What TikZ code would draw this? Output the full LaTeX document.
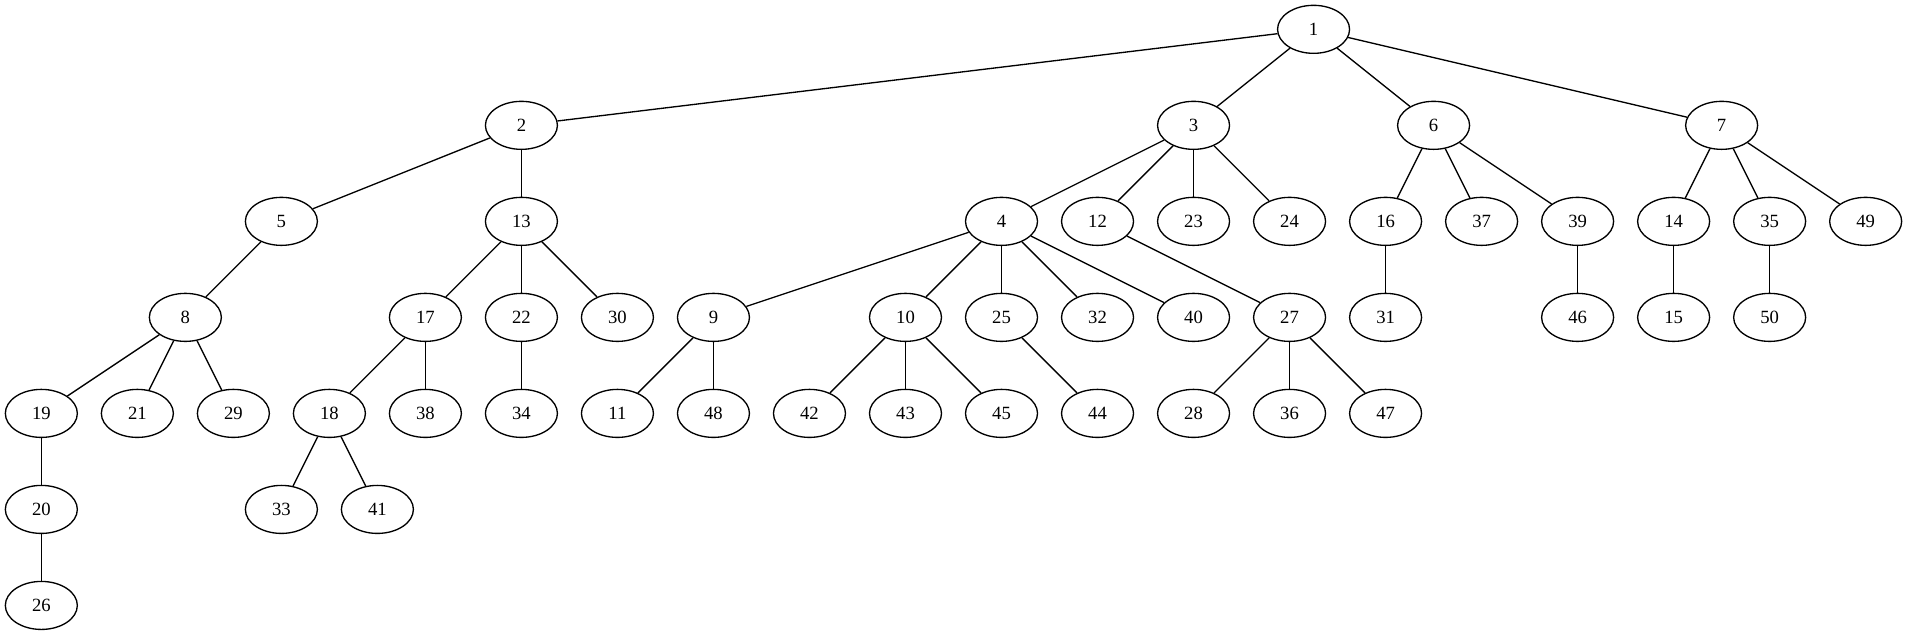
\documentclass[tikz,border=0pt]{standalone}
\usepackage{fontspec}
\setmainfont{Liberation Serif}
\usetikzlibrary{shapes.geometric}
\tikzset{vertex/.style={draw,ellipse,minimum width=54pt,minimum height=36pt,inner sep=0pt,font=\fontsize{14}{16}\selectfont}}
\begin{document}
\begin{tikzpicture}[x=1pt,y=1pt,line width=1pt]
	\useasboundingbox (0,0) rectangle (1430,476);
	% nodes: label/x/rank
	\foreach \n/\x/\r in {1/985/0,
		2/391/1, 3/895/1, 6/1075/1, 7/1291/1,
		5/211/2, 13/391/2, 4/751/2, 12/823/2, 23/895/2, 24/967/2, 16/1039/2, 37/1111/2, 39/1183/2, 14/1255/2, 35/1327/2, 49/1399/2,
		8/139/3, 17/319/3, 22/391/3, 30/463/3, 9/535/3, 10/679/3, 25/751/3, 32/823/3, 40/895/3, 27/967/3, 31/1039/3, 46/1183/3, 15/1255/3, 50/1327/3,
		19/31/4, 21/103/4, 29/175/4, 18/247/4, 38/319/4, 34/391/4, 11/463/4, 48/535/4, 42/607/4, 43/679/4, 45/751/4, 44/823/4, 28/895/4, 36/967/4, 47/1039/4,
		20/31/5, 33/211/5, 41/283/5,
		26/31/6}
		\node[vertex] (n\n) at (\x,{454-72*\r}) {\n};
	% edges
	\foreach \a/\b in {1/2, 1/3, 1/6, 1/7, 2/5, 2/13, 3/4, 3/12, 3/23, 3/24,
		6/16, 6/37, 6/39, 7/14, 7/35, 7/49, 5/8, 13/17, 13/22, 13/30,
		4/9, 4/10, 4/25, 4/32, 4/40, 12/27, 16/31, 39/46, 14/15, 35/50,
		8/19, 8/21, 8/29, 17/18, 17/38, 22/34, 9/11, 9/48, 10/42, 10/43, 10/45,
		25/44, 27/28, 27/36, 27/47, 19/20, 18/33, 18/41, 20/26}
		\draw (n\a) -- (n\b);
\end{tikzpicture}
\end{document}
